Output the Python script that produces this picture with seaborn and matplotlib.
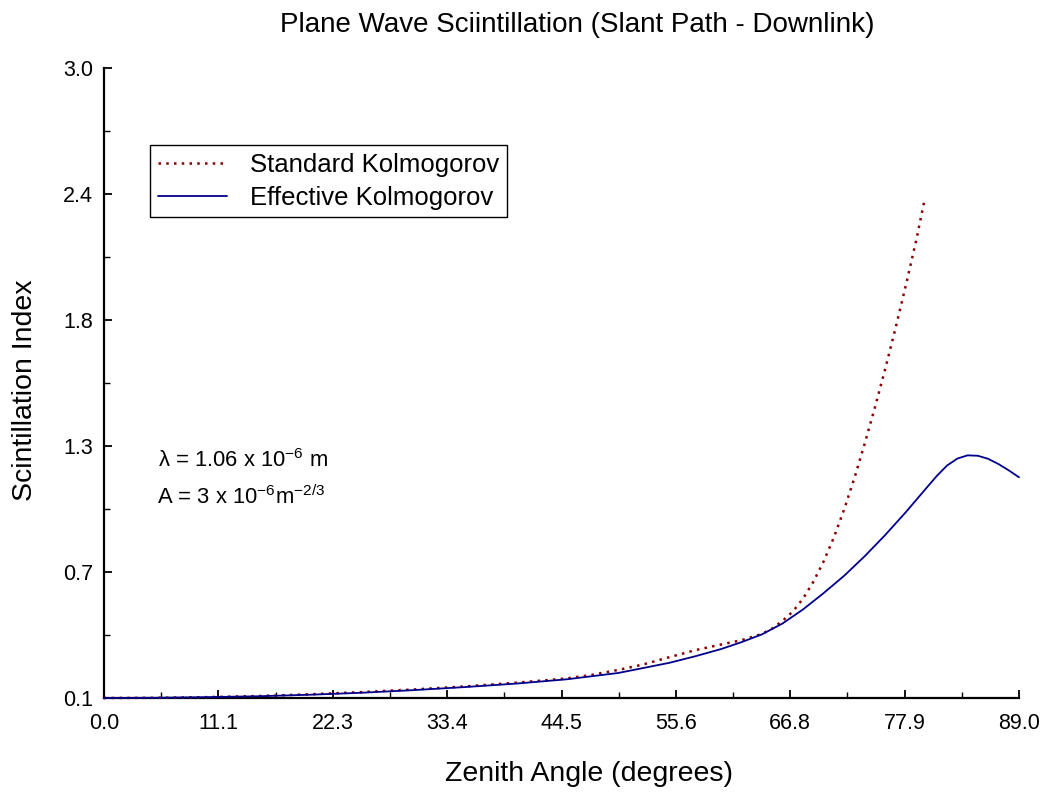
import numpy as np
import pandas as pd
import seaborn as sns
import matplotlib
matplotlib.use("Agg")
import matplotlib.pyplot as plt

# Zenith angle (degrees) and scintillation index for each model
angle_std = [0, 5, 10, 15, 20, 25, 30, 35, 40, 45, 47.5, 50, 52.5, 55, 57.5, 60, 62,
             64, 65, 66, 67, 68, 69, 70, 71, 72, 73, 74, 75, 76, 77, 78, 79, 79.8]
sci_std = [0.100, 0.101, 0.104, 0.109, 0.117, 0.127, 0.139, 0.153, 0.170, 0.190,
           0.207, 0.229, 0.255, 0.288, 0.320, 0.346, 0.366, 0.395, 0.420, 0.455,
           0.498, 0.558, 0.635, 0.729, 0.840, 0.969, 1.114, 1.272, 1.440, 1.617,
           1.804, 2.001, 2.206, 2.390]

angle_eff = [0, 5, 10, 15, 20, 25, 30, 35, 40, 45, 50, 55, 57.5, 60, 62, 64, 66, 68,
             70, 72, 74, 76, 78, 80, 81, 82, 83, 84, 85, 86, 87, 88, 89]
sci_eff = [0.100, 0.101, 0.104, 0.108, 0.115, 0.124, 0.136, 0.150, 0.166, 0.186,
           0.215, 0.262, 0.292, 0.325, 0.357, 0.393, 0.443, 0.508, 0.583, 0.663,
           0.753, 0.851, 0.956, 1.067, 1.122, 1.170, 1.202, 1.217, 1.215, 1.201,
           1.177, 1.148, 1.116]

x_ticks = [0, 11.125, 22.25, 33.375, 44.5, 55.625, 66.75, 77.875, 89.0]
x_tick_labels = ["0.0", "11.1", "22.3", "33.4", "44.5", "55.6", "66.8", "77.9", "89.0"]
y_ticks = [0.1, 0.68, 1.26, 1.84, 2.42, 3.0]
y_tick_labels = ["0.1", "0.7", "1.3", "1.8", "2.4", "3.0"]

sns.set_theme(style="ticks")
plt.rcParams["font.family"] = ["Liberation Sans", "DejaVu Sans"]
plt.rcParams["mathtext.fontset"] = "custom"
plt.rcParams["mathtext.rm"] = "Liberation Sans"
plt.rcParams["mathtext.it"] = "Liberation Sans:italic"
plt.rcParams["mathtext.bf"] = "Liberation Sans:bold"
for key in ["text.color", "axes.labelcolor", "xtick.color", "ytick.color",
            "axes.edgecolor"]:
    plt.rcParams[key] = "black"

W, H = 1044, 793
fig = plt.figure(figsize=(W / 100, H / 100), dpi=100)
ax = fig.add_axes([104 / W, 1 - 698 / H, 915 / W, 630 / H])

df_std = pd.DataFrame({"angle": angle_std, "sci": sci_std})
df_eff = pd.DataFrame({"angle": angle_eff, "sci": sci_eff})

sns.lineplot(data=df_std, x="angle", y="sci", ax=ax, color="#8B0000",
             linewidth=1.8, linestyle=(0, (1, 2.1)), label="Standard Kolmogorov",
             clip_on=False, zorder=3)
sns.lineplot(data=df_eff, x="angle", y="sci", ax=ax, color="#00008B",
             linewidth=1.3, label="Effective Kolmogorov", clip_on=False, zorder=4)

ax.set_xlim(0, 89)
ax.set_ylim(0.1, 3.0)
ax.set_xticks(x_ticks)
ax.set_xticklabels(x_tick_labels)
ax.set_yticks(y_ticks)
ax.set_yticklabels(y_tick_labels)
ax.set_xticks([(a + b) / 2 for a, b in zip(x_ticks[:-1], x_ticks[1:])], minor=True)
ax.set_yticks([(a + b) / 2 for a, b in zip(y_ticks[:-1], y_ticks[1:])], minor=True)

ax.tick_params(axis="both", which="major", direction="in", length=6, width=1.3,
               labelsize=15.5)
ax.tick_params(axis="both", which="minor", direction="in", length=4, width=1.0)
ax.tick_params(axis="x", which="major", pad=11)
ax.tick_params(axis="y", which="major", pad=8)

for side in ["top", "right"]:
    ax.spines[side].set_visible(False)
for side in ["left", "bottom"]:
    ax.spines[side].set_linewidth(1.6)

ax.set_xlabel("")
ax.set_ylabel("")
fig.text(445 / W, 1 - 781 / H, "Zenith Angle (degrees)", fontsize=20.5,
         ha="left", va="baseline")
fig.text(32 / W, 1 - 390 / H, "Scintillation Index", fontsize=20.5,
         ha="center", va="baseline", rotation=90, rotation_mode="anchor")
fig.text(280 / W, 1 - 32 / H, "Plane Wave Sciintillation (Slant Path - Downlink)",
         fontsize=20, ha="left", va="baseline")

fig.text(158 / W, 1 - 467 / H, r"λ = 1.06 x 10$^{-6}$ m", fontsize=15.8,
         ha="left", va="baseline")
fig.text(157 / W, 1 - 504 / H, r"A = 3 x 10$^{-6}$m$^{-2/3}$", fontsize=15.8,
         ha="left", va="baseline")

leg = ax.legend(loc="upper left", bbox_to_anchor=((150 - 104) / 915, (698 - 145) / 630),
                fontsize=18.5, frameon=True, fancybox=False, edgecolor="black",
                framealpha=1, handlelength=2.7, handletextpad=0.9, borderpad=0.3,
                labelspacing=0.35, borderaxespad=0)
leg.get_frame().set_linewidth(1.0)

fig.savefig("out.png", dpi=100)
